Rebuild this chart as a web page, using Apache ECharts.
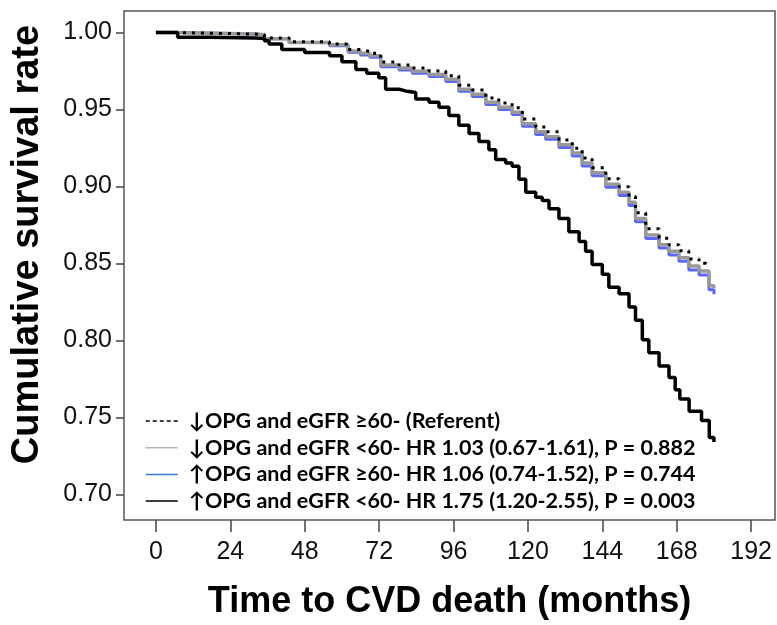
<!DOCTYPE html>
<html>
<head>
<meta charset="utf-8">
<script src="https://cdn.jsdelivr.net/npm/echarts@6/dist/echarts.min.js"></script>
<style>
html,body{margin:0;padding:0;background:#fff}
#chart{width:777px;height:625px}
</style>
</head>
<body>
<div id="chart"></div>
<script>
// tick labels
var xTicks = [0, 24, 48, 72, 96, 120, 144, 168, 192];
var yTicks = [0.70, 0.75, 0.80, 0.85, 0.90, 0.95, 1.00];

var names = [
    '\u2193OPG and eGFR \u226560- (Referent)',
    '\u2193OPG and eGFR <60- HR 1.03 (0.67-1.61), P = 0.882',
    '\u2191OPG and eGFR \u226560- HR 1.06 (0.74-1.52), P = 0.744',
    '\u2191OPG and eGFR <60- HR 1.75 (1.20-2.55), P = 0.003'
];

// months and cumulative survival
var refT  = [0, 7, 32, 35, 43, 56, 62, 66, 69, 72.5, 78.4, 82.7, 88.1, 93.5, 97.7, 102, 106.4, 110.6, 114.9, 118.2, 122.5, 125.7, 130, 134.3, 137.5, 140.7, 145.1, 149.4, 152.6, 154.7, 158, 162.3, 165.5, 168.7, 171.9, 175.2, 177.5];
var refS  = [1.000, 0.999, 0.9985, 0.9965, 0.994, 0.9925, 0.989, 0.9878, 0.9865, 0.9808, 0.979, 0.977, 0.975, 0.972, 0.9658, 0.9627, 0.9575, 0.9543, 0.9512, 0.9438, 0.9386, 0.9355, 0.9302, 0.9249, 0.9186, 0.9122, 0.905, 0.8998, 0.8935, 0.883, 0.8725, 0.8664, 0.8622, 0.8582, 0.853, 0.8502, 0.847];

var lowT  = [0, 7, 32, 35, 43, 56, 62, 66, 69, 72.5, 78.4, 82.7, 88.1, 93.5, 97.7, 102, 106.4, 110.6, 114.9, 118.2, 122.5, 125.7, 130, 134.3, 137.5, 140.7, 145.1, 149.4, 152.6, 154.7, 158, 162.3, 165.5, 168.7, 171.9, 175.2, 178.4, 180];
var lowS  = [1.000, 0.999, 0.9985, 0.996, 0.9935, 0.992, 0.988, 0.9865, 0.985, 0.979, 0.977, 0.9749, 0.9728, 0.9696, 0.9632, 0.960, 0.9547, 0.9515, 0.9483, 0.9408, 0.9355, 0.9324, 0.9271, 0.9217, 0.9153, 0.9089, 0.9015, 0.8962, 0.8898, 0.8792, 0.8685, 0.8622, 0.8579, 0.8537, 0.8483, 0.8451, 0.8356, 0.834];

var highT = [0, 7, 32, 35, 43, 56, 62, 66, 69, 72.5, 78.4, 82.7, 88.1, 93.5, 97.7, 102, 106.4, 110.6, 114.9, 118.2, 122.5, 125.7, 130, 134.3, 137.5, 140.7, 145.1, 149.4, 152.6, 154.7, 158, 162.3, 165.5, 168.7, 171.9, 175.2, 178.4, 180];
var highS = [1.000, 0.999, 0.9985, 0.996, 0.9935, 0.9915, 0.9872, 0.9855, 0.984, 0.9778, 0.9757, 0.9735, 0.9714, 0.9682, 0.9618, 0.9585, 0.9532, 0.950, 0.9467, 0.9392, 0.9338, 0.9307, 0.9253, 0.9198, 0.9134, 0.907, 0.8995, 0.8942, 0.8877, 0.8771, 0.8663, 0.860, 0.8556, 0.8514, 0.8458, 0.8425, 0.833, 0.830];

var riskT = [0, 7, 17, 32, 35, 36.5, 40.6, 48, 56, 60, 64.5, 68, 71.9, 74.1, 78.4, 80.5, 83.8, 88.1, 91.3, 94.5, 97.7, 101, 104.2, 107.4, 109.6, 112.8, 114.9, 117.1, 119.3, 122.5, 124.6, 126.8, 130, 133.2, 136.5, 138.6, 140.7, 144, 146.1, 149.4, 152.6, 154.7, 156.9, 159, 162.3, 165.5, 167.5, 169, 172, 176, 178.5, 180];
var riskS = [1.000, 0.997, 0.9965, 0.9962, 0.9946, 0.9925, 0.989, 0.987, 0.985, 0.981, 0.976, 0.9735, 0.9706, 0.9632, 0.9621, 0.961, 0.9568, 0.9547, 0.9515, 0.9462, 0.9398, 0.9345, 0.9292, 0.9239, 0.9175, 0.9153, 0.9132, 0.9047, 0.8962, 0.893, 0.8909, 0.8856, 0.8792, 0.8706, 0.8643, 0.8579, 0.8494, 0.843, 0.8345, 0.8303, 0.8218, 0.8132, 0.8004, 0.792, 0.7835, 0.776, 0.768, 0.762, 0.754, 0.748, 0.737, 0.734];

function pairs(t, s) {
    var out = [];
    for (var i = 0; i < t.length; i++) out.push([t[i], s[i]]);
    return out;
}

var myChart = echarts.init(document.getElementById('chart'));
var option = {
    animation: false,
    textStyle: { fontFamily: 'Liberation Sans, Arial, sans-serif' },
    grid: {
        left: 124, top: 11, width: 651, height: 519,
        show: true, borderColor: '#555', borderWidth: 1.5, backgroundColor: '#fff'
    },
    legend: {
        orient: 'vertical',
        left: 140, top: 405,
        itemWidth: 32, itemHeight: 14, itemGap: 4.7,
        itemStyle: { opacity: 0 },
        textStyle: { fontFamily: 'Lato, Open Sans, sans-serif', fontWeight: 'bold', fontSize: 21.5, lineHeight: 20, color: '#000', padding: [0, 0, 0, 6] },
        data: [
            { name: names[0], lineStyle: { color: '#000', width: 1.5, type: [4, 3] } },
            { name: names[1], lineStyle: { color: '#b4b4b4', width: 1.5, type: 'solid' } },
            { name: names[2], lineStyle: { color: '#2f7fd8', width: 1.5, type: 'solid' } },
            { name: names[3], lineStyle: { color: '#000', width: 1.5, type: 'solid' } }
        ]
    },
    xAxis: {
        type: 'value',
        min: -10.3, max: 199.7,
        name: 'Time to CVD death (months)',
        nameLocation: 'middle', nameGap: 64,
        nameTextStyle: { fontSize: 36, fontWeight: 'bold', color: '#000' },
        axisLine: { show: false, onZero: false },
        axisTick: { show: true, customValues: xTicks, length: 12, lineStyle: { color: '#444', width: 1.5 } },
        axisLabel: { customValues: xTicks, fontSize: 25, color: '#111', margin: 20 },
        splitLine: { show: false }
    },
    yAxis: {
        type: 'value',
        min: 0.6834, max: 1.014,
        name: 'Cumulative survival rate',
        nameLocation: 'middle', nameGap: 77,
        nameTextStyle: { fontSize: 38, fontWeight: 'bold', color: '#000', padding: [0, 0, 0, 42] },
        axisLine: { show: false, onZero: false },
        axisTick: { show: true, customValues: yTicks, length: 8, lineStyle: { color: '#444', width: 1.5 } },
        axisLabel: {
            customValues: yTicks, fontSize: 25, color: '#111', margin: 12,
            formatter: function (v) { return v.toFixed(2); }
        },
        splitLine: { show: false }
    },
    series: [
        {
            name: names[2], type: 'line', step: 'end', symbol: 'none', z: 2,
            lineStyle: { color: '#5a68f6', width: 3 }, itemStyle: { color: '#5a68f6' },
            data: pairs(highT, highS)
        },
        {
            name: names[1], type: 'line', step: 'end', symbol: 'none', z: 3,
            lineStyle: { color: '#999', width: 3.5 }, itemStyle: { color: '#999' },
            data: pairs(lowT, lowS)
        },
        {
            name: names[0], type: 'line', step: 'end', symbol: 'none', z: 4,
            lineStyle: { color: '#000', width: 3, type: [3, 6] }, itemStyle: { color: '#000' },
            data: pairs(refT, refS)
        },
        {
            name: names[3], type: 'line', step: 'end', symbol: 'none', z: 5,
            lineStyle: { color: '#000', width: 3.5 }, itemStyle: { color: '#000' },
            data: pairs(riskT, riskS)
        }
    ]
};
myChart.setOption(option);
</script>
</body>
</html>
